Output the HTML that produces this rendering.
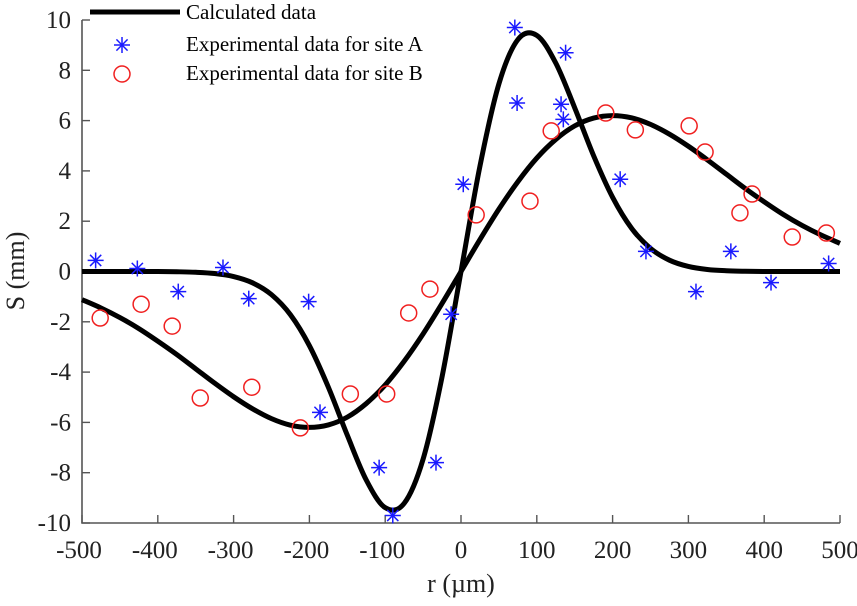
<!DOCTYPE html>
<html><head><meta charset="utf-8">
<style>
html,body{margin:0;padding:0;background:#fff;}
svg, svg text{font-family:"Liberation Serif","Times New Roman",serif !important;}
</style></head>
<body>
<svg id="chart" width="857" height="601" viewBox="0 0 857 601" xmlns="http://www.w3.org/2000/svg" font-family="Liberation Serif, serif"></svg>
<script>
const xTicks=[-500,-400,-300,-200,-100,0,100,200,300,400,500];
const yTicks=[-10,-8,-6,-4,-2,0,2,4,6,8,10];
const curveR=[0,25,50,75,100,125,150,175,200,225,250,275,300,325,350,375,400,425,450,475,500];
const curve1=[0,4.19,7.46,9.22,9.39,8.29,6.51,4.60,2.95,1.72,0.92,0.45,0.20,0.08,0.03,0.01,0,0,0,0,0];
const curve2=[0,1.27,2.48,3.57,4.51,5.25,5.79,6.10,6.2,6.11,5.85,5.46,4.98,4.44,3.87,3.30,2.77,2.27,1.83,1.45,1.12];
const siteAR=[-482,-427,-373,-314,-280,-201,-186,-108,-90,-33,-13,3,71,74,132,135,138,210,244,310,356,409,485];
const siteAS=[0.44,0.12,-0.8,0.16,-1.08,-1.2,-5.6,-7.8,-9.7,-7.6,-1.7,3.47,9.7,6.7,6.65,6.05,8.7,3.67,0.8,-0.8,0.8,-0.44,0.32];
const siteBR=[-476,-422,-381,-344,-276,-212,-146,-98,-69,-41,20,91,119,191,230,301,322,368,384,437,482];
const siteBS=[-1.85,-1.3,-2.17,-5.03,-4.6,-6.22,-4.87,-4.87,-1.65,-0.7,2.25,2.8,5.59,6.3,5.63,5.79,4.75,2.33,3.08,1.37,1.53];

const NS="http://www.w3.org/2000/svg";
const svg=document.getElementById('chart');
const FF='"Liberation Serif", serif';
const X0=82,X1=840,Y0=523,Y1=20;
function sx(r){return X0+(r+500)/1000*(X1-X0);}
function sy(s){return Y0-(s+10)/20*(Y0-Y1);}
function mk(tag,attrs,parent){const e=document.createElementNS(NS,tag);for(const k in attrs)e.setAttribute(k,attrs[k]);(parent||svg).appendChild(e);return e;}

const ax=mk('path',{d:`M${X0},${Y1} V${Y0} H${X1}`,fill:'none',stroke:'#555','stroke-width':1.6});


xTicks.forEach(t=>{
  const tk=mk('line',{x1:sx(t),x2:sx(t),y1:Y0,y2:Y0-8,stroke:'#555','stroke-width':1.4});
  
  
  const tx=mk('text',{x:sx(t)-(t<0?3:0),y:558,'text-anchor':'middle','font-size':25,fill:'#222','font-family':FF});
  tx.textContent=t;
  
  
});
yTicks.forEach(t=>{
  const tk=mk('line',{x1:X0,x2:X0+8,y1:sy(t),y2:sy(t),stroke:'#555','stroke-width':1.4});
  
  
  const tx=mk('text',{x:71,y:sy(t)+8,'text-anchor':'end','font-size':25,fill:'#222','font-family':FF});
  tx.textContent=t;
  
  
});
const xl=mk('text',{x:461,y:592,'text-anchor':'middle','font-size':26,fill:'#222','font-family':FF});
xl.textContent='r (µm)';


const yl=mk('text',{x:0,y:0,'text-anchor':'middle','font-size':26,fill:'#222','font-family':FF,transform:`translate(24,271) rotate(-90)`});
yl.textContent='S (mm)';



function curvePath(vals){
  const pts=[];
  for(let i=curveR.length-1;i>0;i--)pts.push([sx(-curveR[i]),sy(-vals[i])]);
  for(let i=0;i<curveR.length;i++)pts.push([sx(curveR[i]),sy(vals[i])]);
  let d=`M${pts[0][0]},${pts[0][1]}`;
  for(let i=0;i<pts.length-1;i++){
    const p0=pts[Math.max(0,i-1)],p1=pts[i],p2=pts[i+1],p3=pts[Math.min(pts.length-1,i+2)];
    d+=` C${p1[0]+(p2[0]-p0[0])/6},${p1[1]+(p2[1]-p0[1])/6} ${p2[0]-(p3[0]-p1[0])/6},${p2[1]-(p3[1]-p1[1])/6} ${p2[0]},${p2[1]}`;
  }
  return d;
}
const c1=mk('path',{d:curvePath(curve1),fill:'none',stroke:'#000','stroke-width':5,'stroke-linejoin':'round'});


const c2=mk('path',{d:curvePath(curve2),fill:'none',stroke:'#000','stroke-width':5,'stroke-linejoin':'round'});



function star(x,y){
  const g=mk('g',{stroke:'#1a1aff','stroke-width':1.5,fill:'none'});
  const r=8;
  mk('line',{x1:x-r,y1:y,x2:x+r,y2:y},g);
  mk('line',{x1:x,y1:y-r,x2:x,y2:y+r},g);
  mk('line',{x1:x-r*0.7,y1:y-r*0.7,x2:x+r*0.7,y2:y+r*0.7},g);
  mk('line',{x1:x-r*0.7,y1:y+r*0.7,x2:x+r*0.7,y2:y-r*0.7},g);
  return g;
}
siteAR.forEach((r,i)=>{
  const g=star(sx(r),sy(siteAS[i]));
  
  
});
siteBR.forEach((r,i)=>{
  const c=mk('circle',{cx:sx(r),cy:sy(siteBS[i]),r:8,fill:'none',stroke:'#f02020','stroke-width':1.5});
  
  
});

const lg=mk('g',{});


mk('line',{x1:90,x2:180,y1:12,y2:12,stroke:'#000','stroke-width':5},lg);
const s=star(122,45);lg.appendChild(s);
mk('circle',{cx:122,cy:74,r:8,fill:'none',stroke:'#f02020','stroke-width':1.5},lg);
[['Calculated data',19],['Experimental data for site A',51],['Experimental data for site B',80]].forEach(([t,y])=>{
  const tx=mk('text',{x:186,y:y,'font-size':21,fill:'#000','font-family':FF},lg);
  tx.textContent=t;
  
  
});
</script>
</body></html>
